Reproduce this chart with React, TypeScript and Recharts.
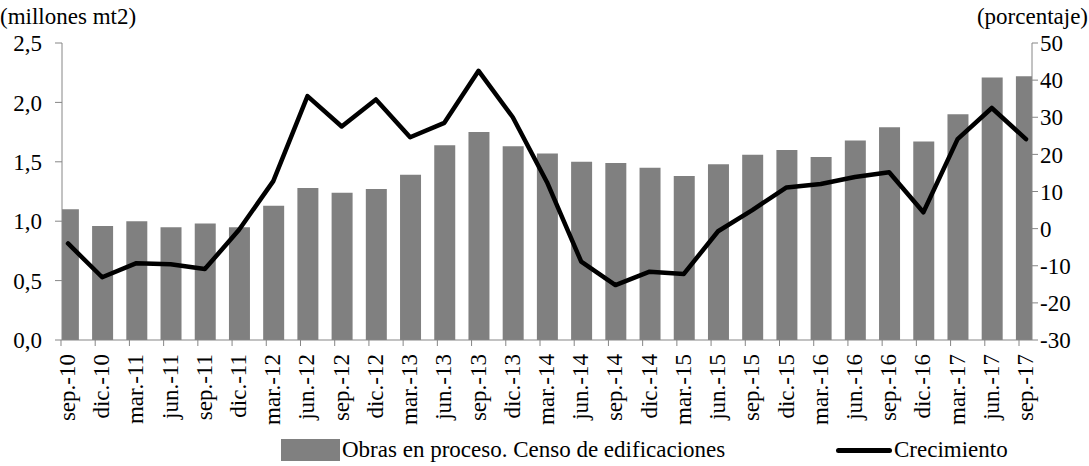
import { ComposedChart, Bar, Line, XAxis, YAxis, Legend } from 'recharts'

const categories = [
  'sep.-10', 'dic.-10', 'mar.-11', 'jun.-11', 'sep.-11', 'dic.-11', 'mar.-12', 'jun.-12',
  'sep.-12', 'dic.-12', 'mar.-13', 'jun.-13', 'sep.-13', 'dic.-13', 'mar.-14', 'jun.-14',
  'sep.-14', 'dic.-14', 'mar.-15', 'jun.-15', 'sep.-15', 'dic.-15', 'mar.-16', 'jun.-16',
  'sep.-16', 'dic.-16', 'mar.-17', 'jun.-17', 'sep.-17',
]

// millones de mt2
const obras = [
  1.10, 0.96, 1.00, 0.95, 0.98, 0.95, 1.13, 1.28, 1.24, 1.27, 1.39, 1.64, 1.75, 1.63, 1.57,
  1.50, 1.49, 1.45, 1.38, 1.48, 1.56, 1.60, 1.54, 1.68, 1.79, 1.67, 1.90, 2.21, 2.22,
]

// porcentaje
const crecimiento = [
  -4.0, -13.1, -9.3, -9.6, -10.9, -0.3, 12.8, 35.7, 27.5, 34.8, 24.6, 28.5, 42.5, 30.0, 12.5,
  -8.9, -15.2, -11.6, -12.2, -0.7, 5.0, 11.1, 12.0, 13.9, 15.2, 4.4, 24.1, 32.5, 24.1,
]

const leftTicks = [0, 0.5, 1, 1.5, 2, 2.5]
const rightTicks = [-30, -20, -10, 0, 10, 20, 30, 40, 50]

const FONT = 'Liberation Serif, Times New Roman, DejaVu Serif, serif'
const FS = 23
const AXIS_GREY = '#868686'
const BAR_GREY = '#808080'

const data = categories.map((label, i) => ({
  idx: i,
  label,
  obras: obras[i],
  crecimiento: crecimiento[i],
}))

function XTick(props: any) {
  const { x, y, payload } = props
  return (
    <g>
      <line x1={x - 7} x2={x - 7} y1={y} y2={y + 6} stroke={AXIS_GREY} />
      <text
        x={0}
        y={0}
        transform={`translate(${x + 7},${y + 14}) rotate(-90)`}
        textAnchor="end"
        style={{ fontFamily: FONT, fontSize: FS }}
        fill="#000"
      >
        {categories[payload.value]}
      </text>
    </g>
  )
}

function LegendContent(props: any) {
  const items = props.payload || []
  return (
    <div style={{ position: 'relative', height: 26, fontFamily: FONT, fontSize: FS }}>
      {items.map((item: any) => {
        const isLine = item.type === 'line'
        return (
          <div
            key={item.value}
            style={{
              position: 'absolute',
              left: isLine ? 836 : 281,
              top: 0,
              display: 'flex',
              alignItems: 'center',
              whiteSpace: 'nowrap',
              lineHeight: '26px',
            }}
          >
            {isLine ? (
              <span style={{ display: 'inline-block', width: 56, height: 5, borderRadius: 3, background: '#000' }} />
            ) : (
              <span style={{ display: 'inline-block', width: 59, height: 22, background: BAR_GREY }} />
            )}
            <span style={{ marginLeft: 2, color: '#000' }}>{item.value}</span>
          </div>
        )
      })}
    </div>
  )
}

const tickStyle = { fontSize: FS, fontFamily: FONT, fill: '#000' }

export default function App() {
  return (
    <div style={{ position: 'absolute', left: 0, top: 0, width: 1089, height: 466, background: '#fff', overflow: 'hidden', fontFamily: FONT }}>
      <div style={{ position: 'absolute', left: 0, top: 5, fontSize: FS, lineHeight: '23px' }}>
        (millones mt2)
      </div>
      <div style={{ position: 'absolute', right: 1, top: 5, fontSize: FS, lineHeight: '23px' }}>
        (porcentaje)
      </div>
      <ComposedChart
        width={1089}
        height={466}
        data={data}
        margin={{ top: 43, right: 0, left: 0, bottom: 0 }}
        style={{ fontFamily: FONT }}
      >
        <XAxis
          xAxisId="x"
          type="number"
          dataKey="idx"
          domain={[-0.175, 28.175]}
          allowDataOverflow
          ticks={categories.map((_, i) => i)}
          interval={0}
          tick={<XTick />}
          tickLine={false}
          tickSize={0}
          tickMargin={0}
          height={100}
          axisLine={{ stroke: AXIS_GREY }}
        />
        <YAxis
          yAxisId="left"
          domain={[0, 2.5]}
          ticks={leftTicks}
          width={62}
          tickSize={7}
          tickMargin={13}
          tickFormatter={(v: number) => v.toFixed(1).replace('.', ',')}
          tick={tickStyle}
          tickLine={{ stroke: AXIS_GREY }}
          axisLine={{ stroke: AXIS_GREY }}
        />
        <YAxis
          yAxisId="right"
          orientation="right"
          domain={[-30, 50]}
          ticks={rightTicks}
          width={57}
          tickSize={6}
          tickMargin={2}
          tick={{ ...tickStyle, textAnchor: 'start' }}
          tickLine={{ stroke: AXIS_GREY }}
          axisLine={{ stroke: AXIS_GREY }}
        />
        <Legend
          verticalAlign="bottom"
          content={<LegendContent />}
          wrapperStyle={{ left: 0, width: 1089, bottom: 3 }}
        />
        <Bar
          xAxisId="x"
          yAxisId="left"
          dataKey="obras"
          name="Obras en proceso. Censo de edificaciones"
          fill={BAR_GREY}
          barSize={21}
          isAnimationActive={false}
        />
        <Line
          xAxisId="x"
          yAxisId="right"
          dataKey="crecimiento"
          name="Crecimiento"
          type="linear"
          stroke="#000"
          strokeWidth={4.5}
          strokeLinejoin="round"
          strokeLinecap="round"
          dot={false}
          activeDot={false}
          isAnimationActive={false}
        />
      </ComposedChart>
    </div>
  )
}
